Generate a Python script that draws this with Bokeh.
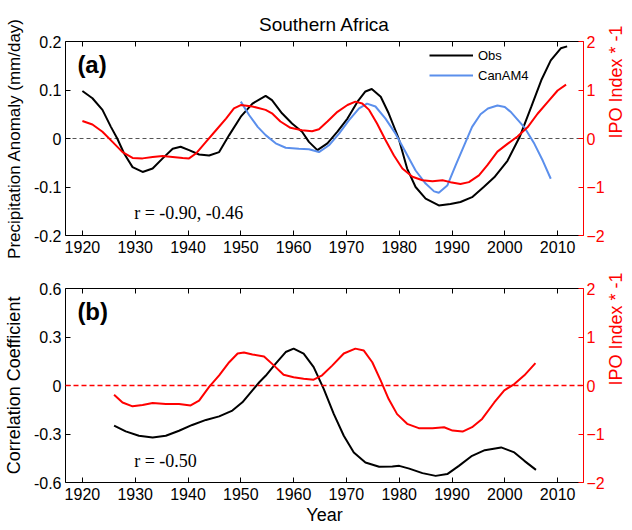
import math
from bokeh.plotting import figure
from bokeh.models import (Range1d, LinearAxis, FixedTicker, Legend, LegendItem,
                          CustomJSTickFormatter, Label)
from bokeh.layouts import column
from bokeh.embed import file_html
from bokeh.resources import INLINE

# ---------------- data ----------------
year_ticks = [1920, 1930, 1940, 1950, 1960, 1970, 1980, 1990, 2000, 2010]
precip_ticks = [-0.2, -0.1, 0.0, 0.1, 0.2]
corr_ticks = [-0.6, -0.3, 0.0, 0.3, 0.6]
ipo_ticks = [-2, -1, 0, 1, 2]
zero_level = [0.0]

obs_year = [1920, 1921.9, 1923.8, 1925.4, 1926.6, 1927.9, 1929.5, 1931.4, 1933.3, 1935.2,
            1937.1, 1938.6, 1940.2, 1942.1, 1944.0, 1945.9, 1947.8, 1950.0, 1952.2, 1954.7,
            1955.9, 1957.8, 1959.7, 1961.6, 1962.9, 1964.5, 1966.4, 1968.3, 1970.2, 1972.1,
            1973.6, 1974.8, 1976.5, 1978.0, 1979.9, 1981.5, 1983.1, 1985.0, 1987.5, 1989.7,
            1991.6, 1993.8, 1996.0, 1998.0, 2000.5, 2002.8, 2005.0, 2006.9, 2008.7, 2010.6,
            2011.8]
obs_precip = [0.098, 0.083, 0.059, 0.024, 0.0, -0.031, -0.059, -0.069, -0.062, -0.041,
              -0.021, -0.017, -0.024, -0.033, -0.035, -0.028, 0.007, 0.045, 0.072, 0.088,
              0.079, 0.052, 0.031, 0.014, -0.007, -0.024, -0.010, 0.014, 0.041, 0.076,
              0.097, 0.102, 0.086, 0.052, 0.0, -0.062, -0.100, -0.124, -0.138, -0.135,
              -0.131, -0.121, -0.100, -0.080, -0.046, 0.003, 0.065, 0.120, 0.161, 0.186,
              0.190]

can_year = [1950.0, 1951.6, 1953.2, 1954.7, 1956.6, 1958.5, 1961.0, 1962.9, 1964.8, 1966.7,
            1968.6, 1970.5, 1972.4, 1973.9, 1975.5, 1977.4, 1979.3, 1981.2, 1983.1, 1985.0,
            1986.6, 1987.5, 1989.1, 1990.7, 1992.3, 1993.8, 1995.4, 1996.8, 1998.6, 2000.0,
            2001.2, 2003.7, 2005.6, 2007.2, 2008.7]
can_precip = [0.076, 0.048, 0.024, 0.007, -0.010, -0.019, -0.021, -0.022, -0.028, -0.014,
              0.010, 0.038, 0.062, 0.072, 0.066, 0.041, 0.010, -0.028, -0.066, -0.093,
              -0.109, -0.112, -0.097, -0.055, -0.014, 0.024, 0.050, 0.062, 0.068, 0.065,
              0.054, 0.023, -0.011, -0.046, -0.083]

ipo_year_a = [1920, 1921.9, 1923.8, 1925.7, 1927.6, 1929.5, 1931.4, 1933.3, 1935.2, 1937.1,
              1939.0, 1940.2, 1941.5, 1943.4, 1945.3, 1947.2, 1948.7, 1950.0, 1952.2, 1954.7,
              1955.9, 1957.5, 1959.4, 1961.6, 1963.5, 1964.8, 1966.4, 1968.3, 1970.2, 1971.7,
              1973.0, 1974.3, 1975.8, 1977.4, 1979.0, 1980.6, 1982.5, 1984.4, 1986.3, 1988.2,
              1989.7, 1991.6, 1993.2, 1995.1, 1996.7, 1998.6, 2000.5, 2002.4, 2004.3, 2006.2,
              2008.1, 2010.0, 2011.6]
ipo_a = [0.36, 0.29, 0.14, -0.07, -0.28, -0.40, -0.41, -0.38, -0.36, -0.38,
         -0.40, -0.41, -0.31, -0.07, 0.17, 0.41, 0.62, 0.69, 0.66, 0.59,
         0.52, 0.35, 0.22, 0.17, 0.15, 0.19, 0.35, 0.55, 0.69, 0.76,
         0.72, 0.59, 0.31, -0.03, -0.35, -0.62, -0.79, -0.86, -0.88, -0.86,
         -0.90, -0.94, -0.90, -0.76, -0.55, -0.27, -0.11, 0.04, 0.23, 0.51,
         0.75, 0.99, 1.11]

corr_year = [1926.0, 1928.2, 1930.7, 1933.3, 1935.8, 1938.3, 1940.8, 1943.4, 1945.9, 1948.4,
             1950.3, 1952.2, 1953.5, 1954.7, 1956.6, 1958.5, 1960.0, 1961.9, 1963.8, 1965.7,
             1967.6, 1969.5, 1971.4, 1973.6, 1976.2, 1978.7, 1980.0, 1981.9, 1984.4, 1986.9,
             1989.1, 1991.3, 1993.8, 1996.2, 1999.3, 2001.8, 2003.7, 2005.9]
corr = [-0.248, -0.284, -0.311, -0.321, -0.311, -0.280, -0.244, -0.213, -0.191, -0.155,
        -0.104, -0.030, 0.020, 0.060, 0.135, 0.207, 0.228, 0.197, 0.114, -0.021,
        -0.176, -0.311, -0.414, -0.476, -0.503, -0.501, -0.497, -0.514, -0.542, -0.559,
        -0.548, -0.497, -0.435, -0.400, -0.383, -0.414, -0.466, -0.522]

ipo_year_b = [1926.0, 1927.6, 1929.5, 1931.4, 1933.3, 1935.8, 1938.3, 1940.5, 1942.1, 1944.0,
              1945.9, 1947.8, 1949.4, 1950.6, 1952.2, 1954.4, 1956.3, 1958.1, 1960.0, 1961.9,
              1963.8, 1965.4, 1967.3, 1969.5, 1971.7, 1973.3, 1974.9, 1976.5, 1978.0, 1979.6,
              1981.5, 1983.7, 1986.3, 1988.5, 1990.1, 1992.0, 1993.8, 1995.7, 1998.0, 1999.9,
              2001.8, 2003.7, 2005.8]
ipo_b = [-0.19, -0.35, -0.43, -0.40, -0.36, -0.38, -0.38, -0.41, -0.31, -0.03,
         0.21, 0.48, 0.66, 0.68, 0.64, 0.60, 0.41, 0.22, 0.17, 0.14,
         0.12, 0.21, 0.41, 0.66, 0.76, 0.72, 0.48, 0.10, -0.28, -0.59,
         -0.79, -0.88, -0.88, -0.86, -0.93, -0.95, -0.86, -0.69, -0.35, -0.10,
         0.03, 0.21, 0.46]

# ---------------- style ----------------
FONT = "Liberation Sans"
SERIF = "Liberation Serif"
RED = "#ff0000"
BLUE = "#5b8fec"

one_dec = CustomJSTickFormatter(code="return Math.abs(tick) < 1e-9 ? '0' : tick.toFixed(1);")


def style_axis(ax, color="black"):
    ax.axis_line_color = color
    ax.major_tick_line_color = color
    ax.major_label_text_color = color
    ax.axis_label_text_color = color
    ax.major_tick_in = 5
    ax.major_tick_out = 0
    ax.minor_tick_line_color = None
    ax.major_label_text_font = FONT
    ax.major_label_text_font_size = "16px"
    ax.axis_label_text_font = FONT
    ax.axis_label_text_font_size = "18px"
    ax.axis_label_text_font_style = "normal"


def make_panel(ylo, yhi, yticks, ylabel, top_border, bottom_border, xlabel=None,
               ylabel_size="18px"):
    p = figure(frame_width=518, frame_height=194,
               x_range=Range1d(1916.8, 2014.9), y_range=Range1d(ylo, yhi),
               output_backend="svg", toolbar_location=None,
               min_border_left=60, min_border_right=38,
               min_border_top=top_border, min_border_bottom=bottom_border)
    p.outline_line_color = None
    p.xgrid.visible = False
    p.ygrid.visible = False
    p.background_fill_color = "white"
    p.border_fill_color = "white"

    xa = p.xaxis[0]
    xa.ticker = FixedTicker(ticks=year_ticks)
    style_axis(xa)
    xa.major_label_standoff = 5
    if xlabel:
        xa.axis_label = xlabel
        xa.axis_label_standoff = 2

    ya = p.yaxis[0]
    ya.ticker = FixedTicker(ticks=yticks)
    ya.formatter = one_dec
    style_axis(ya)
    ya.axis_label = ylabel
    ya.axis_label_text_font_size = ylabel_size
    ya.major_label_standoff = 4
    ya.axis_label_standoff = 7

    top = LinearAxis(ticker=FixedTicker(ticks=year_ticks),
                     formatter=CustomJSTickFormatter(code="return '';"))
    style_axis(top)
    top.major_label_text_font_size = "1px"
    top.major_label_standoff = 0
    p.add_layout(top, "above")

    p.extra_y_ranges = {"ipo": Range1d(-2, 2)}
    ra = LinearAxis(y_range_name="ipo", ticker=FixedTicker(ticks=ipo_ticks),
                    axis_label="IPO Index * -1")
    style_axis(ra, RED)
    ra.major_label_standoff = 3
    ra.axis_label_standoff = 8
    ra.axis_label_orientation = math.pi / 2
    p.add_layout(ra, "right")
    return p


# ---------------- panel (a) ----------------
pa = make_panel(-0.2, 0.2, precip_ticks, "Precipitation Anomaly (mm/day)", 41, 28,
                ylabel_size="17px")
pa.title.text = "Southern Africa"
pa.title.align = "center"
pa.title.text_font = FONT
pa.title.text_font_size = "19px"
pa.title.text_font_style = "normal"
pa.title.text_color = "black"
pa.title.standoff = 14

pa.hspan(y=zero_level, line_color="#555555", line_dash="4 3", line_width=1)
r_obs = pa.line(obs_year, obs_precip, line_color="black", line_width=2)
r_can = pa.line(can_year, can_precip, line_color=BLUE, line_width=2)
pa.line(ipo_year_a, ipo_a, line_color=RED, line_width=2, y_range_name="ipo")

legend = Legend(items=[LegendItem(label="Obs", renderers=[r_obs]),
                       LegendItem(label="CanAM4", renderers=[r_can])],
                location=(364, 150), padding=0, margin=0, spacing=0,
                glyph_width=44, glyph_height=20, label_height=20, label_standoff=5,
                border_line_color=None, background_fill_alpha=0,
                label_text_font=FONT, label_text_font_size="13px",
                label_text_color="black")
pa.add_layout(legend)

pa.add_layout(Label(x=1919.05, y=0.153, text="(a)", text_font=FONT, text_font_size="24px",
                    text_font_style="bold", text_baseline="middle", text_align="left",
                    text_color="black"))
pa.add_layout(Label(x=1929.8, y=-0.153, text="r = -0.90, -0.46", text_font=SERIF,
                    text_font_size="18px", text_baseline="middle", text_align="left",
                    text_color="black"))

# ---------------- panel (b) ----------------
pb = make_panel(-0.6, 0.6, corr_ticks, "Correlation Coefficient", 25, 42, xlabel="Year")
pb.line(corr_year, corr, line_color="black", line_width=2)
pb.line(ipo_year_b, ipo_b, line_color=RED, line_width=2, y_range_name="ipo")
pb.hspan(y=zero_level, line_color="red", line_alpha=1.0, line_dash="5 3", line_width=1.3,
         level="overlay")

pb.add_layout(Label(x=1919.05, y=0.46, text="(b)", text_font=FONT, text_font_size="24px",
                    text_font_style="bold", text_baseline="middle", text_align="left",
                    text_color="black"))
pb.add_layout(Label(x=1929.8, y=-0.466, text="r = -0.50", text_font=SERIF,
                    text_font_size="18px", text_baseline="middle", text_align="left",
                    text_color="black"))

layout = column(pa, pb, spacing=0)
open("out.html", "w").write(file_html(layout, INLINE))
